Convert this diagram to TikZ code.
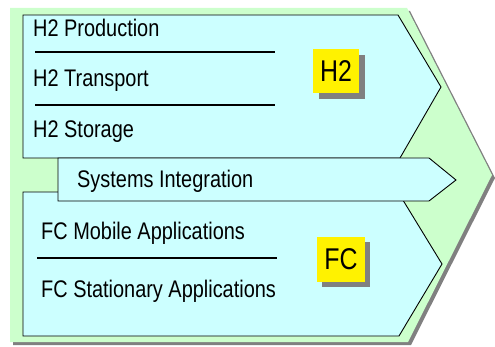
\documentclass[tikz,border=0pt]{standalone}
\usepackage{fontspec}
\setmainfont{Liberation Sans}[FakeStretch=0.83]
\usepackage{tikz}
\usetikzlibrary{shadows}

\definecolor{bggreen}{HTML}{CCFFCC}
\definecolor{boxcyan}{HTML}{CCFFFF}
\definecolor{shadowgray}{HTML}{808080}

\begin{document}
\begin{tikzpicture}[x=1pt,y=-1pt,
        item/.style={anchor=base west,inner sep=0pt,font=\fontsize{24}{26}\selectfont},
        tag/.style={fill=yellow,inner sep=0pt,font=\fontsize{30}{32}\selectfont,
            drop shadow={shadow xshift=#1,shadow yshift=-#1,fill=shadowgray,opacity=1}},
        panel/.style={fill=boxcyan,draw=black,line width=0.9pt,line join=miter}]
        \useasboundingbox (0,0) rectangle (495,347);
        \fill[shadowgray] (13,11) -- (410,11) -- (495,178) -- (411,345) -- (13,345) -- cycle;
        \fill[bggreen] (10,8) -- (407,8) -- (492,175) -- (408,342) -- (10,342) -- cycle;
        \draw[panel] (23,15) -- (398,15) -- (441,87) -- (400,158) -- (23,158) -- cycle;
        \draw[panel] (23,192) -- (398,192) -- (442,264) -- (399,336) -- (23,336) -- cycle;
        \draw[panel] (58,158) -- (429,158) -- (456,180) -- (429,201) -- (58,201) -- cycle;
        \draw[line width=1.2pt] (35,52) -- (275,52);
        \draw[line width=1.2pt] (35,105) -- (275,105);
        \draw[line width=1.3pt] (37,258) -- (277,258);
        \node[item] (prod) at (33,37) {H2 Production};
        \node[item] (trans) at (33,87) {H2 Transport};
        \node[item] (stor) at (33,138) {H2 Storage};
        \node[item] (sysint) at (77,188) {Systems Integration};
        \node[item] (mobile) at (41,240) {FC Mobile Applications};
        \node[item] (station) at (41,298) {FC Stationary Applications};
        \node[tag=6pt,minimum width=46pt,minimum height=44pt] (htwo) at (336,71) {H2};
        \node[tag=5pt,minimum width=48pt,minimum height=45pt] (fc) at (341,259.5) {FC};
    \end{tikzpicture}
\end{document}
